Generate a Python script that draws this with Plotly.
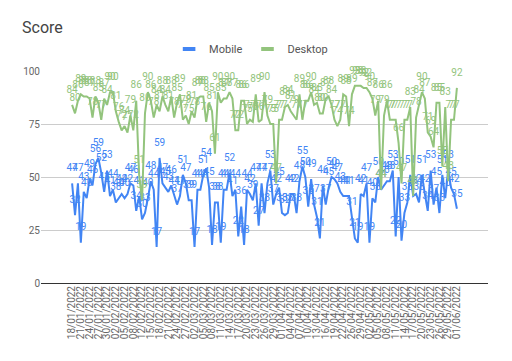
import datetime as dt
import plotly.graph_objects as go

# ---- data ----
start = dt.date(2022, 1, 18)
end = dt.date(2022, 6, 1)
missing = {dt.date(2022, 2, 11), dt.date(2022, 4, 25)}
dates = []
d = start
while d <= end:
    if d not in missing:
        dates.append(d.strftime("%d/%m/%Y"))
    d += dt.timedelta(days=1)

mobile = [47, 32, 47, 19, 43, 40, 49, 46, 56, 59, 52, 43, 53, 41, 44, 38, 40, 42, 40, 42,
          47, 46, 34, 41, 30, 33, 40, 48, 44, 17, 59, 47, 45, 43, 46, 41, 37, 41, 51, 47,
          39, 39, 17, 44, 44, 51, 54, 45, 18, 38, 38, 19, 44, 44, 52, 41, 44, 22, 36, 18,
          44, 42, 39, 47, 27, 47, 33, 47, 53, 37, 42, 45, 33, 32, 33, 42, 42, 33, 48, 55,
          50, 36, 49, 37, 31, 21, 46, 37, 45, 50, 49, 47, 43, 41, 41, 41, 31, 21, 19, 42,
          41, 47, 19, 40, 38, 50, 44, 46, 48, 48, 53, 22, 50, 20, 33, 38, 51, 41, 42, 38,
          51, 42, 34, 53, 37, 45, 33, 51, 40, 53, 45, 42, 35]

desktop = [84, 80, 86, 89, 88, 88, 87, 78, 88, 85, 77, 87, 84, 90, 90, 81, 76, 72, 74, 71,
           79, 72, 86, 51, 39, 80, 90, 86, 78, 84, 81, 88, 84, 81, 88, 78, 85, 89, 77, 79,
           75, 81, 78, 87, 88, 88, 76, 85, 81, 61, 90, 85, 87, 87, 90, 87, 72, 72, 86, 86,
           75, 77, 76, 89, 76, 77, 90, 79, 75, 75, 47, 77, 77, 83, 84, 81, 79, 77, 89, 77,
           86, 86, 90, 84, 85, 80, 80, 87, 88, 84, 77, 74, 77, 89, 88, 74, 89, 93, 93, 93,
           92, 92, 90, 87, 79, 86, 44, 79, 86, 77, 77, 77, 66, 47, 77, 77, 83, 41, 78, 84,
           90, 87, 71, 69, 64, 85, 85, 55, 83, 48, 77, 77, 92]

y_ticks = [0, 25, 50, 75, 100]

BLUE = "#4285f4"
GREEN = "#93c47d"
FONT = "Roboto"

fig = go.Figure()
for name, vals, col in (("Mobile", mobile, BLUE), ("Desktop", desktop, GREEN)):
    fig.add_trace(go.Scatter(
        x=dates, y=vals, name=name, mode="lines+markers+text",
        text=[str(v) for v in vals], textposition="top center",
        textfont=dict(family=FONT, size=10, color=col),
        marker=dict(size=14, opacity=0, color=col),
        line=dict(color=col, width=2), cliponaxis=False, showlegend=False,
    ))
    # legend entry with a short thick dash symbol
    fig.add_trace(go.Scatter(
        x=[None], y=[None], name=name, mode="markers",
        marker=dict(symbol="line-ew", size=9, line=dict(color=col, width=4)),
        showlegend=True,
    ))

fig.update_layout(
    width=512, height=361,
    margin=dict(l=41, r=24, t=71, b=78),
    paper_bgcolor="white", plot_bgcolor="white",
    font=dict(family=FONT, color="#444444"),
    title=dict(text="Score", x=22 / 512, xanchor="left", xref="container",
               y=1 - 27 / 361, yanchor="middle", yref="container",
               font=dict(family=FONT, size=16, color="#444444")),
    legend=dict(orientation="h", x=0.47, xanchor="center", y=1.104, yanchor="middle",
                font=dict(family=FONT, size=11, color="#555555"),
                itemwidth=30, bgcolor="rgba(0,0,0,0)"),
    showlegend=True,
)
fig.update_xaxes(
    type="category", categoryorder="array", categoryarray=dates,
    tickvals=dates[::3], ticktext=dates[::3], tickangle=-90,
    tickfont=dict(family=FONT, size=10, color="#666666"),
    showgrid=False, showline=False, ticks="", zeroline=False, automargin=False,
)
fig.update_yaxes(
    range=[0, 100], tickvals=y_ticks, ticktext=[str(v) for v in y_ticks],
    tickfont=dict(family=FONT, size=10, color="#666666"),
    showgrid=True, gridcolor="#cccccc", gridwidth=1, zeroline=True,
    zerolinecolor="#333333", zerolinewidth=1, ticks="", showline=False,
    automargin=False,
)

fig.write_html("out.html", config={"displayModeBar": False},
               post_script="document.body.style.margin='0';")
